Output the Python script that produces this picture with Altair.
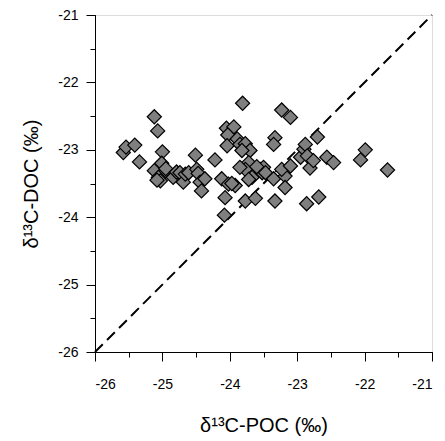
import altair as alt
import pandas as pd

poc = [-25.58, -25.54, -25.41, -25.34, -25.12, -25.07, -25.00, -25.01, -25.12, -24.98,
       -25.06, -25.03, -25.08, -24.95, -24.84, -24.79, -24.74, -24.69, -24.66, -24.61,
       -24.51, -24.49, -24.47, -24.44, -24.42, -24.37, -24.22, -24.12, -24.07, -24.08,
       -24.02, -23.92, -23.97, -24.05, -23.94, -24.03, -24.04, -23.89, -23.85, -23.77,
       -23.70, -23.82, -23.81, -23.72, -23.77, -23.85, -23.67, -23.77, -23.62, -23.55,
       -23.52, -23.50, -23.47, -23.35, -23.18, -23.18, -23.23, -23.10, -23.33, -23.23,
       -23.10, -23.33, -23.35, -22.95, -22.90, -22.88, -22.85, -22.81, -22.76, -22.70,
       -22.56, -22.46, -22.86, -22.68, -21.99, -22.06, -21.66, -23.72, -23.60]
doc = [-23.04, -22.96, -22.93, -23.18, -22.51, -22.72, -23.03, -23.20, -23.31, -23.34,
       -23.41, -23.46, -23.45, -23.28, -23.41, -23.33, -23.34, -23.48, -23.36, -23.34,
       -23.08, -23.29, -23.35, -23.48, -23.61, -23.43, -23.15, -23.43, -23.71, -23.97,
       -23.51, -23.53, -23.50, -22.68, -22.66, -22.78, -22.94, -22.84, -22.92, -22.91,
       -23.01, -23.01, -22.31, -23.19, -23.29, -23.26, -23.41, -23.76, -23.72, -23.29,
       -23.34, -23.26, -23.34, -23.43, -23.39, -23.56, -23.29, -23.24, -23.76, -22.41,
       -22.52, -22.82, -22.92, -23.11, -22.99, -22.92, -23.09, -23.27, -23.16, -22.81,
       -23.11, -23.19, -23.80, -23.70, -23.00, -23.15, -23.30, -23.44, -23.25]

line_x = [-26, -21]
line_y = [-26, -21]

major_ticks = [-26, -25, -24, -23, -22, -21]
minor_ticks = [-26, -25.5, -25, -24.5, -24, -23.5, -23, -22.5, -22, -21.5, -21]

pts = pd.DataFrame({"poc": poc, "doc": doc})
ln = pd.DataFrame({"poc": line_x, "doc": line_y})

FONT = "Liberation Sans"
xs = alt.Scale(domain=[-26, -21], nice=False, zero=False)
ys = alt.Scale(domain=[-26, -21], nice=False, zero=False)

line = alt.Chart(ln).mark_line(color="black", strokeWidth=2, strokeDash=[11, 6]).encode(
    x=alt.X("poc:Q", scale=xs,
            axis=alt.Axis(values=minor_ticks, tickSize=5, labels=False, title=None,
                          orient="bottom", grid=False, domainColor="black", tickColor="black")),
    y=alt.Y("doc:Q", scale=ys,
            axis=alt.Axis(values=minor_ticks, tickSize=5, labels=False, title=None,
                          orient="left", grid=False, domainColor="black", tickColor="black")),
)

points = alt.Chart(pts).mark_point(shape="diamond", filled=True, fill="#7f7f7f",
                                   stroke="black", strokeWidth=1.2, size=200, opacity=1).encode(
    x=alt.X("poc:Q", scale=xs,
            axis=alt.Axis(values=major_ticks, tickSize=9, orient="bottom", grid=False,
                          title="δ¹³C-POC (‰)", labelFontSize=14, titleFontSize=20,
                          labelFont=FONT, titleFont=FONT, titleFontWeight="normal",
                          labelPadding=16, titlePadding=24, labelColor="black",
                          titleColor="black", domainColor="black", tickColor="black",
                          labelExpr="datum.value + ''")),
    y=alt.Y("doc:Q", scale=ys,
            axis=alt.Axis(values=major_ticks, tickSize=9, orient="left", grid=False,
                          title="δ¹³C-DOC (‰)", labelFontSize=14, titleFontSize=20,
                          labelFont=FONT, titleFont=FONT, titleFontWeight="normal",
                          labelPadding=8, titlePadding=16, labelColor="black",
                          titleColor="black", domainColor="black", tickColor="black",
                          labelExpr="datum.value + ''")),
)

chart = alt.layer(line, points).resolve_axis(x="independent", y="independent").properties(
    width=337, height=337,
    autosize=alt.AutoSizeParams(type="none"),
    padding={"left": 87, "top": 7, "right": 4, "bottom": 88},
).configure_view(stroke="black", strokeWidth=1).configure(background="white")

chart.save("out.html", embed_options={"renderer": "svg", "actions": False})
